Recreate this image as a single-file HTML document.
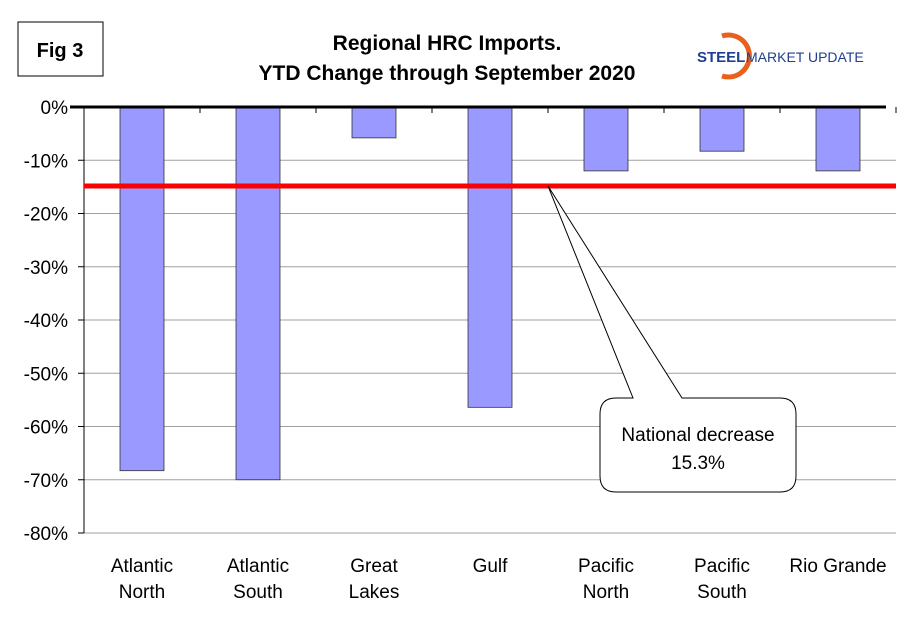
<!DOCTYPE html>
<html><head><meta charset="utf-8"><style>
body{margin:0;background:#fff;}
svg{display:block;font-family:"Liberation Sans",Arial,sans-serif;}
</style></head><body>
<svg id="c" width="910" height="622">
<rect x="18" y="22" width="85" height="54" fill="#fff" stroke="#000" stroke-width="1"/>
<text x="60" y="57" font-size="20" font-weight="bold" text-anchor="middle">Fig 3</text>
<text x="447" y="50" font-size="21" font-weight="bold" text-anchor="middle">Regional HRC Imports.</text>
<text x="447" y="80" font-size="21" font-weight="bold" text-anchor="middle">YTD Change through September 2020</text>
<g>
<path d="M722 36 A21 21 0 1 1 722 76" fill="none" stroke="#e8601c" stroke-width="5"/>
<text x="697" y="62" font-size="15" font-weight="bold" fill="#1f3f8f">STEEL</text>
<text x="746" y="62" font-size="14" fill="#1f3f8f">MARKET UPDATE</text>
</g>
<g id="grid"></g><g id="bars"></g><g id="axes"></g>
<line x1="84" y1="186" x2="896" y2="186" stroke="#ff0000" stroke-width="5" id="natline"/>
<g>
<path id="callout" d="" fill="#fff" stroke="#000" stroke-width="1"/>
<text x="698" y="441" font-size="19" text-anchor="middle">National decrease</text>
<text x="698" y="469" font-size="19" text-anchor="middle">15.3%</text>
</g>
</svg>
<script>
const categories=[["Atlantic","North"],["Atlantic","South"],["Great","Lakes"],["Gulf"],["Pacific","North"],["Pacific","South"],["Rio Grande"]];
const values=[-68.3,-70.0,-5.8,-56.4,-12.0,-8.3,-12.0];
const ticks=[0,-10,-20,-30,-40,-50,-60,-70,-80];
const national=-15.3;
const NS="http://www.w3.org/2000/svg";
const L=84,R=896,T=107,B=533;
const y=v=>T+(0-v)/80*(B-T);
const bw=(R-L)/categories.length;
const x=i=>L+bw*(i+0.5);
function mk(t,a,p){const e=document.createElementNS(NS,t);for(const k in a)e.setAttribute(k,a[k]);p.appendChild(e);return e;}
const g=document.getElementById('grid'),b=document.getElementById('bars'),ax=document.getElementById('axes');
ticks.forEach(t=>{
 if(t!==0){const l=mk('line',{x1:L,y1:y(t),x2:R,y2:y(t),stroke:'#a0a0a0','stroke-width':1},g);
 
 }
 mk('line',{x1:L-6,y1:y(t),x2:L,y2:y(t),stroke:'#000'},ax);
 const tx=mk('text',{x:L-16,y:y(t)+7,'font-size':19,'text-anchor':'end'},ax);tx.textContent=t+'%';
 
 
});
mk('line',{x1:L,y1:T,x2:L,y2:B,stroke:'#000'},ax);
values.forEach((v,i)=>{
 const r=mk('rect',{x:x(i)-22,y:y(0),width:44,height:y(v)-y(0),fill:'#9999ff',stroke:'#333','stroke-width':0.8},b);
 
 
 categories[i].forEach((s,j)=>{const t=mk('text',{x:x(i),y:572+j*26,'font-size':19,'text-anchor':'middle'},ax);t.textContent=s;
 
 });
 mk('line',{x1:L+bw*(i+1),y1:y(0),x2:L+bw*(i+1),y2:y(0)+6,stroke:'#000'},ax);
});
mk('line',{x1:70,y1:y(0),x2:886,y2:y(0),stroke:'#000','stroke-width':3},ax);
const ny=y(national)-2.5;
const nl=document.getElementById('natline');nl.setAttribute('y1',ny);nl.setAttribute('y2',ny);
document.getElementById('callout').setAttribute('d',`M548 ${ny} L682 398 L780 398 Q796 398 796 414 L796 476 Q796 492 780 492 L616 492 Q600 492 600 476 L600 414 Q600 398 616 398 L633 398 Z`);
</script>
</body></html>
